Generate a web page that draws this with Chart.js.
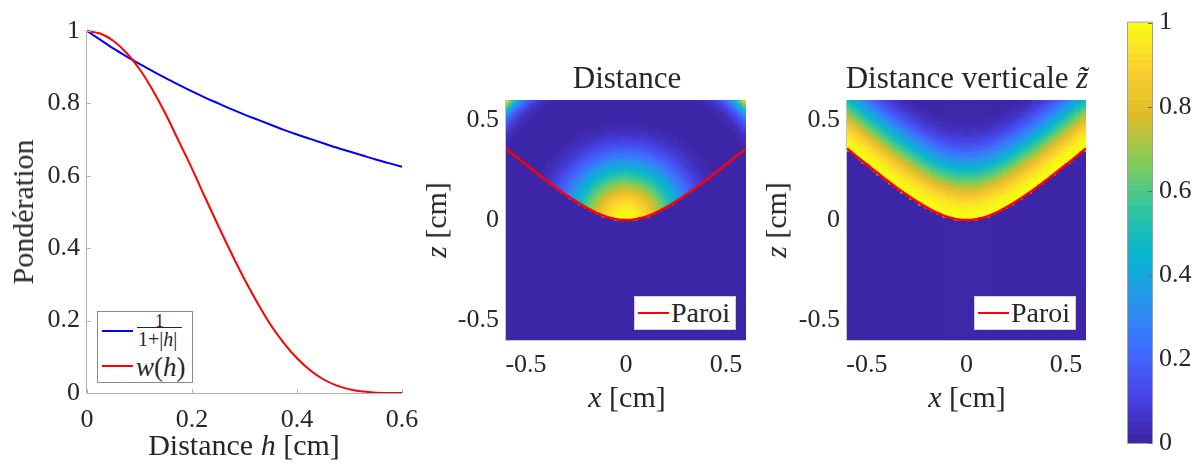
<!DOCTYPE html>
<html>
<head>
<meta charset="utf-8">
<script src="https://cdn.jsdelivr.net/npm/chart.js@4.4.1/dist/chart.umd.min.js"></script>
<style>
  body { margin: 0; background: #fff; }
  #wrap { position: relative; width: 1194px; height: 466px; overflow: hidden; font-family: 'Liberation Serif', serif; color: #262626; }
  canvas { position: absolute; left: 0; top: 0; }
  .lbl { position: absolute; white-space: nowrap; transform: translate(-50%, -50%); font-size: 30px; line-height: 1; }
  .rot { transform: translate(-50%, -50%) rotate(-90deg); }
  .box { position: absolute; background: #fff; border: 1px solid #8c8c8c; }
  .swatch { position: absolute; height: 2px; }
  .txt { position: absolute; white-space: nowrap; line-height: 1; transform: translateY(-50%); }
</style>
</head>
<body>
<div id="wrap">
  <canvas id="cLines" width="1194" height="466"></canvas>
  <canvas id="cDist" width="1194" height="466"></canvas>
  <canvas id="cVert" width="1194" height="466"></canvas>
  <canvas id="cBar" width="1194" height="466"></canvas>

  <div class="lbl rot" style="left:23px; top:212px;">Pondération</div>
  <div class="lbl" style="left:244px; top:445px;">Distance <i>h</i> [cm]</div>

  <div class="lbl" style="left:627px; top:77px; font-size:31px;">Distance</div>
  <div class="lbl rot" style="left:436px; top:220px;"><i>z</i> [cm]</div>
  <div class="lbl" style="left:627px; top:397px;"><i>x</i> [cm]</div>

  <div class="lbl" style="left:967px; top:77px; font-size:31px;">Distance verticale <i>z&#x0303;</i></div>
  <div class="lbl rot" style="left:776px; top:220px;"><i>z</i> [cm]</div>
  <div class="lbl" style="left:967px; top:397px;"><i>x</i> [cm]</div>

  <!-- legend, left plot -->
  <div class="box" style="left:97px; top:311px; width:94px; height:70px;">
    <div class="swatch" style="left:4px; top:18px; width:31px; background:#0000ff;"></div>
    <div class="txt" style="left:57px; top:9px; font-size:18px;">1</div>
    <div style="position:absolute; left:39px; top:15px; width:45px; height:1px; background:#262626;"></div>
    <div class="txt" style="left:40px; top:27px; font-size:20px;">1+|<i>h</i>|</div>
    <div class="swatch" style="left:4px; top:53px; width:31px; background:#ff0000;"></div>
    <div class="txt" style="left:38px; top:55px; font-size:27px;"><i>w</i>(<i>h</i>)</div>
  </div>

  <!-- legends, heatmaps -->
  <div class="box" style="left:634px; top:296px; width:100px; height:32px; border-color:#d0d0d0;">
    <div class="swatch" style="left:3px; top:15px; width:31px; background:#ff0000;"></div>
    <div class="txt" style="left:36px; top:16px; font-size:28px;">Paroi</div>
  </div>
  <div class="box" style="left:974px; top:296px; width:100px; height:32px; border-color:#d0d0d0;">
    <div class="swatch" style="left:3px; top:15px; width:31px; background:#ff0000;"></div>
    <div class="txt" style="left:36px; top:16px; font-size:28px;">Paroi</div>
  </div>
</div>

<script>
// left plot: weighting curves versus distance h (cm)
const hVals = [0, 0.025, 0.05, 0.075, 0.1, 0.125, 0.15, 0.175, 0.2, 0.225, 0.25, 0.275, 0.3,
               0.325, 0.35, 0.375, 0.4, 0.425, 0.45, 0.475, 0.5, 0.525, 0.55, 0.575, 0.6];
const invVals = [1.000, 0.976, 0.952, 0.930, 0.909, 0.889, 0.870, 0.851, 0.833, 0.816, 0.800, 0.784, 0.769,
                 0.755, 0.741, 0.727, 0.714, 0.702, 0.690, 0.678, 0.667, 0.656, 0.645, 0.635, 0.625];
const wVals = [1.000, 0.993, 0.973, 0.940, 0.895, 0.837, 0.770, 0.695, 0.620, 0.540, 0.462, 0.386, 0.314,
               0.248, 0.188, 0.138, 0.096, 0.063, 0.038, 0.021, 0.010, 0.004, 0.001, 0.000, 0.000];

// wall ("Paroi") profile z(x), cm
const wallX = [-0.6, -0.55, -0.5, -0.45, -0.4, -0.35, -0.3, -0.25, -0.2, -0.15, -0.1, -0.05, 0,
               0.05, 0.1, 0.15, 0.2, 0.25, 0.3, 0.35, 0.4, 0.45, 0.5, 0.55, 0.6];
const wallZ = [0.358, 0.317, 0.277, 0.237, 0.199, 0.161, 0.126, 0.093, 0.063, 0.037, 0.017, 0.0044, 0,
               0.0044, 0.017, 0.037, 0.063, 0.093, 0.126, 0.161, 0.199, 0.237, 0.277, 0.317, 0.358];

// "Distance" panel: weight beyond 0.6 cm (top corners), read along the diagonal
const tailD = [0.625, 0.65, 0.675, 0.7, 0.725, 0.75, 0.775, 0.8, 0.825, 0.85];
const tailW = [0.000, 0.001, 0.005, 0.017, 0.045, 0.100, 0.200, 0.370, 0.620, 1.000];

const hTicks = [0, 0.2, 0.4, 0.6];
const wTicks = [0, 0.2, 0.4, 0.6, 0.8, 1];
const xzTicks = [-0.5, 0, 0.5];
const cbTicks = [0, 0.2, 0.4, 0.6, 0.8, 1];

const gridN = 80;      // cells per side in the maps
const cbLevels = 64;   // colour levels

const parulaStops = [[62,38,168],[71,71,235],[62,111,255],[39,150,235],[8,181,208],
                     [49,198,159],[129,204,89],[220,189,41],[252,207,48],[249,251,21]];

const textCol = '#262626';
const tickFont = { family: "'Liberation Serif', 'Times New Roman', serif", size: 26 };
const tickText = v => String(v);

function parula(v) {
  v = Math.min(1, Math.max(0, v));
  const lvl = Math.min(cbLevels - 1, Math.floor(v * cbLevels)) / (cbLevels - 1);
  const p = lvl * (parulaStops.length - 1);
  const i = Math.min(parulaStops.length - 2, Math.floor(p));
  const f = p - i;
  const a = parulaStops[i], b = parulaStops[i + 1];
  return 'rgb(' + [0, 1, 2].map(k => Math.round(a[k] + (b[k] - a[k]) * f)).join(',') + ')';
}

function lookup(xs, ys, v) {
  if (v <= xs[0]) return ys[0];
  if (v >= xs[xs.length - 1]) return ys[ys.length - 1];
  let i = 1;
  while (xs[i] < v) i++;
  const f = (v - xs[i - 1]) / (xs[i] - xs[i - 1]);
  return ys[i - 1] + (ys[i] - ys[i - 1]) * f;
}

const radD = hVals.concat(tailD);
const radW = wVals.concat(tailW);

function buildCells(kind) {
  const pts = [], cols = [];
  const step = 1.2 / gridN;
  for (let i = 0; i < gridN; i++) {
    for (let j = 0; j < gridN; j++) {
      const x = -0.6 + step * (i + 0.5);
      const z = -0.6 + step * (j + 0.5);
      const zw = lookup(wallX, wallZ, x);
      let v = 0;
      if (z >= zw) {
        v = kind === 'dist' ? lookup(radD, radW, Math.hypot(x, z)) : lookup(hVals, wVals, z - zw);
      }
      pts.push({ x: x, y: z });
      cols.push(parula(v));
    }
  }
  return { pts, cols, step };
}

// axis lines and inward ticks, drawn through the scales
const matlabAxes = {
  id: 'matlabAxes',
  afterDatasetsDraw(chart, args, opts) {
    const { ctx, chartArea: a, scales } = chart;
    ctx.save();
    ctx.lineWidth = 1;
    ctx.strokeStyle = opts.color;
    ctx.beginPath();
    if (opts.box) {
      ctx.rect(a.left - 0.5, a.top - 0.5, a.right - a.left + 1, a.bottom - a.top + 1);
    } else {
      ctx.moveTo(a.left - 0.5, a.top);
      ctx.lineTo(a.left - 0.5, a.bottom + 0.5);
      ctx.lineTo(a.right, a.bottom + 0.5);
    }
    ctx.stroke();
    if (opts.tickLen) {
      ctx.strokeStyle = opts.tickColor || opts.color;
      ctx.beginPath();
      if (opts.xTicks && scales.x) {
        scales.x.ticks.forEach(t => {
          const px = Math.round(scales.x.getPixelForValue(t.value)) + 0.5;
          ctx.moveTo(px, a.bottom);
          ctx.lineTo(px, a.bottom - opts.tickLen);
        });
      }
      if (opts.yTicks) {
        const ys = scales.y;
        ys.ticks.forEach(t => {
          const py = Math.round(ys.getPixelForValue(t.value)) + 0.5;
          if (opts.yTicks === 'right') {
            ctx.moveTo(a.right, py);
            ctx.lineTo(a.right - opts.tickLen, py);
          } else {
            ctx.moveTo(a.left, py);
            ctx.lineTo(a.left + opts.tickLen, py);
          }
        });
      }
      ctx.stroke();
    }
    ctx.restore();
  }
};

function setTicks(list) {
  return scale => { scale.ticks = list.map(v => ({ value: v })); };
}

const baseOpts = {
  responsive: false,
  animation: false,
  events: [],
  devicePixelRatio: 1
};

// --- left: line chart
new Chart(document.getElementById('cLines'), {
  type: 'line',
  data: {
    datasets: [
      { label: 'w(h)', data: hVals.map((h, i) => ({ x: h, y: wVals[i] })), borderColor: '#ff0000',
        borderWidth: 2, pointRadius: 0, cubicInterpolationMode: 'monotone', fill: false, clip: false },
      { label: '1/(1+|h|)', data: hVals.map((h, i) => ({ x: h, y: invVals[i] })), borderColor: '#0000ff',
        borderWidth: 2, pointRadius: 0, cubicInterpolationMode: 'monotone', fill: false, clip: false }
    ]
  },
  options: {
    ...baseOpts,
    layout: { padding: { left: 0, top: 31, right: 1194 - 402, bottom: 0 } },
    plugins: {
      legend: { display: false }, tooltip: { enabled: false },
      matlabAxes: { color: '#b4b4b4', tickLen: 4, xTicks: true, yTicks: 'left' }
    },
    scales: {
      x: {
        type: 'linear', min: 0, max: 0.6,
        afterBuildTicks: setTicks(hTicks),
        afterFit: s => { s.height = 73; },
        grid: { display: false, drawTicks: false }, border: { display: false },
        ticks: { font: tickFont, color: textCol, padding: 12, maxRotation: 0, callback: tickText }
      },
      y: {
        min: 0, max: 1,
        afterBuildTicks: setTicks(wTicks),
        afterFit: s => { s.width = 87; },
        grid: { display: false, drawTicks: false }, border: { display: false },
        ticks: { font: tickFont, color: textCol, padding: 7, callback: tickText }
      }
    }
  },
  plugins: [matlabAxes]
});

// --- heatmaps
function mapChart(id, kind, left, right) {
  const cells = buildCells(kind);
  return new Chart(document.getElementById(id), {
    type: 'scatter',
    data: {
      datasets: [
        { type: 'line', label: 'Paroi', data: wallX.map((x, i) => ({ x: x, y: wallZ[i] })),
          borderColor: '#ff0000', borderWidth: 2.5, pointRadius: 0, cubicInterpolationMode: 'monotone',
          fill: false, clip: 0 },
        { label: kind, data: cells.pts, backgroundColor: cells.cols, pointStyle: 'rect', pointBorderWidth: 0,
          borderWidth: 0, clip: 0,
          pointRadius: ctx => {
            const s = ctx.chart.scales.x;
            return (Math.abs(s.getPixelForValue(cells.step) - s.getPixelForValue(0)) + 0.7) / Math.SQRT2;
          } }
      ]
    },
    options: {
      ...baseOpts,
      layout: { padding: { left: left - 60, top: 100, right: 1194 - right, bottom: 466 - 340 - 50 } },
      plugins: {
        legend: { display: false }, tooltip: { enabled: false },
        matlabAxes: { color: '#c4c4c4', tickLen: 0 }
      },
      scales: {
        x: {
          type: 'linear', min: -0.6, max: 0.6,
          afterBuildTicks: setTicks(xzTicks),
          afterFit: s => { s.height = 50; },
          grid: { display: false, drawTicks: false }, border: { display: false },
          ticks: { font: tickFont, color: textCol, padding: 10, maxRotation: 0, callback: tickText }
        },
        y: {
          min: -0.6, max: 0.6,
          afterBuildTicks: setTicks(xzTicks),
          afterFit: s => { s.width = 60; },
          grid: { display: false, drawTicks: false }, border: { display: false },
          ticks: { font: tickFont, color: textCol, padding: 7, callback: tickText }
        }
      }
    },
    plugins: [matlabAxes]
  });
}

mapChart('cDist', 'dist', 506, 746);
mapChart('cVert', 'vert', 847, 1086);

// --- colour bar
new Chart(document.getElementById('cBar'), {
  type: 'bar',
  data: {
    labels: ['c'],
    datasets: Array.from({ length: cbLevels }, (_, k) => ({
      data: [[k / cbLevels, Math.min(1, (k + 1) / cbLevels + 0.003)]],
      backgroundColor: parula((k + 0.5) / cbLevels),
      borderWidth: 0, barPercentage: 1, categoryPercentage: 1
    }))
  },
  options: {
    ...baseOpts,
    layout: { padding: { left: 1128, top: 15, right: 0, bottom: 23 } },
    plugins: {
      legend: { display: false }, tooltip: { enabled: false },
      matlabAxes: { color: '#a0a0a0', box: true, tickLen: 4, yTicks: 'right', tickColor: '#6e6e6e' }
    },
    scales: {
      x: { display: false, stacked: true },
      y: {
        position: 'right', min: 0, max: 1,
        afterBuildTicks: setTicks(cbTicks),
        afterFit: s => { s.width = 42; },
        grid: { display: false, drawTicks: false }, border: { display: false },
        ticks: { font: tickFont, color: textCol, padding: 7, callback: tickText }
      }
    }
  },
  plugins: [matlabAxes]
});
</script>
</body>
</html>
